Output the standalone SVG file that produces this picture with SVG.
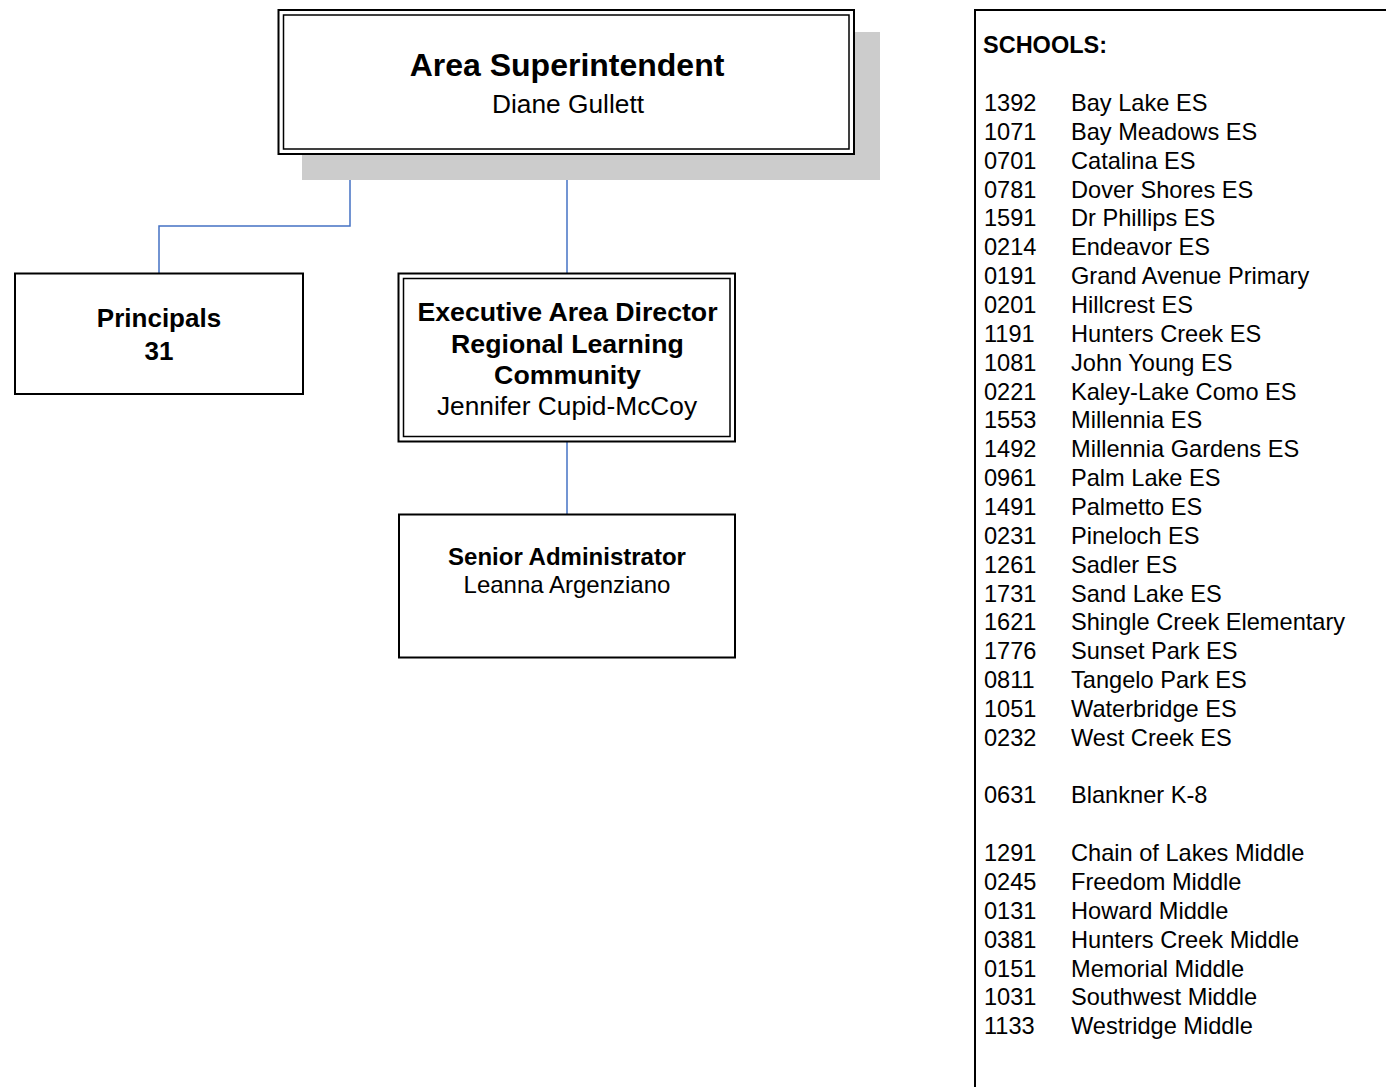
<svg xmlns="http://www.w3.org/2000/svg" width="1386" height="1087" viewBox="0 0 1386 1087">
<style>
text{font-family:"Liberation Sans",Arial,sans-serif;fill:#000}
.b{font-weight:bold}
.c{text-anchor:middle}
.box{fill:#fff;stroke:#000;stroke-width:2}
.in{fill:none;stroke:#000;stroke-width:1.5}
.conn{fill:none;stroke:#4472C4;stroke-width:1.5}
.lst{font-size:23.6px}
</style>
<rect x="0" y="0" width="1386" height="1087" fill="#fff"/>
<g id="connectors">
<path class="conn" d="M350,154 V226 H159 V273"/>
<path class="conn" d="M567,154 V273"/>
<path class="conn" d="M567,442 V514"/>
</g>
<g id="superintendent">
<rect x="302" y="32" width="578" height="148" fill="#cccccc"/>
<rect class="box" x="278.5" y="10" width="575.5" height="144" stroke-width="2.5"/>
<rect class="in" x="283.5" y="15" width="565.5" height="134"/>
<text class="b c" x="567" y="76" font-size="32">Area Superintendent</text>
<text class="c" x="568" y="113" font-size="26.3">Diane Gullett</text>
</g>
<g id="principals">
<rect class="box" x="15" y="273.5" width="288" height="120.5"/>
<text class="b c" x="159" y="327" font-size="26">Principals</text>
<text class="b c" x="159" y="360" font-size="26">31</text>
</g>
<g id="exec-director">
<rect class="box" x="398.5" y="273.5" width="336.5" height="168"/>
<rect class="in" x="403.5" y="278.5" width="326.5" height="158"/>
<text class="b c" x="567.5" y="321" font-size="26.7">Executive Area Director</text>
<text class="b c" x="567.5" y="353" font-size="26.7">Regional Learning</text>
<text class="b c" x="567.5" y="384" font-size="26.7">Community</text>
<text class="c" x="567" y="415" font-size="26.3">Jennifer Cupid-McCoy</text>
</g>
<g id="senior-admin">
<rect class="box" x="399" y="514.5" width="336" height="143"/>
<text class="b c" x="567" y="565" font-size="24">Senior Administrator</text>
<text class="c" x="567" y="593" font-size="24">Leanna Argenziano</text>
</g>
<g id="schools">
<rect class="box" x="975" y="10" width="430" height="1100"/>
<text class="b" x="983" y="53" font-size="23.5">SCHOOLS:</text>
<g class="lst">
<text x="984" y="111">1392</text><text x="1071" y="111">Bay Lake ES</text>
<text x="984" y="139.9">1071</text><text x="1071" y="139.9">Bay Meadows ES</text>
<text x="984" y="168.7">0701</text><text x="1071" y="168.7">Catalina ES</text>
<text x="984" y="197.6">0781</text><text x="1071" y="197.6">Dover Shores ES</text>
<text x="984" y="226.4">1591</text><text x="1071" y="226.4">Dr Phillips ES</text>
<text x="984" y="255.3">0214</text><text x="1071" y="255.3">Endeavor ES</text>
<text x="984" y="284.1">0191</text><text x="1071" y="284.1">Grand Avenue Primary</text>
<text x="984" y="313">0201</text><text x="1071" y="313">Hillcrest ES</text>
<text x="984" y="341.8">1191</text><text x="1071" y="341.8">Hunters Creek ES</text>
<text x="984" y="370.7">1081</text><text x="1071" y="370.7">John Young ES</text>
<text x="984" y="399.5">0221</text><text x="1071" y="399.5">Kaley-Lake Como ES</text>
<text x="984" y="428.4">1553</text><text x="1071" y="428.4">Millennia ES</text>
<text x="984" y="457.2">1492</text><text x="1071" y="457.2">Millennia Gardens ES</text>
<text x="984" y="486.1">0961</text><text x="1071" y="486.1">Palm Lake ES</text>
<text x="984" y="514.9">1491</text><text x="1071" y="514.9">Palmetto ES</text>
<text x="984" y="543.8">0231</text><text x="1071" y="543.8">Pineloch ES</text>
<text x="984" y="572.6">1261</text><text x="1071" y="572.6">Sadler ES</text>
<text x="984" y="601.5">1731</text><text x="1071" y="601.5">Sand Lake ES</text>
<text x="984" y="630.3">1621</text><text x="1071" y="630.3">Shingle Creek Elementary</text>
<text x="984" y="659.2">1776</text><text x="1071" y="659.2">Sunset Park ES</text>
<text x="984" y="688">0811</text><text x="1071" y="688">Tangelo Park ES</text>
<text x="984" y="716.9">1051</text><text x="1071" y="716.9">Waterbridge ES</text>
<text x="984" y="745.7">0232</text><text x="1071" y="745.7">West Creek ES</text>
<text x="984" y="803.4">0631</text><text x="1071" y="803.4">Blankner K-8</text>
<text x="984" y="861.1">1291</text><text x="1071" y="861.1">Chain of Lakes Middle</text>
<text x="984" y="890">0245</text><text x="1071" y="890">Freedom Middle</text>
<text x="984" y="918.8">0131</text><text x="1071" y="918.8">Howard Middle</text>
<text x="984" y="947.7">0381</text><text x="1071" y="947.7">Hunters Creek Middle</text>
<text x="984" y="976.5">0151</text><text x="1071" y="976.5">Memorial Middle</text>
<text x="984" y="1005.4">1031</text><text x="1071" y="1005.4">Southwest Middle</text>
<text x="984" y="1034.2">1133</text><text x="1071" y="1034.2">Westridge Middle</text>
</g>
</g>
</svg>
